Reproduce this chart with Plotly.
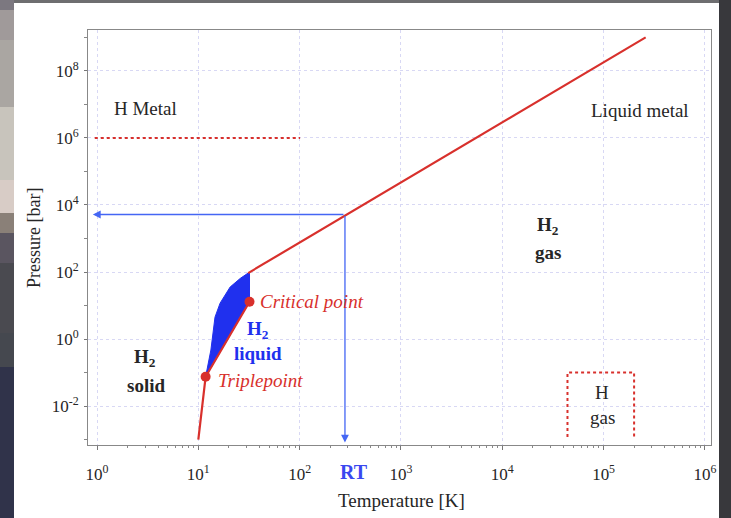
import numpy as np
import plotly.graph_objects as go

# ---------------- data ----------------
# lower sublimation segment and liquid-vapour segment (T [K], P [bar])
low_T = [10.0, 11.8, 32.0]
low_P = [1.0e-3, 0.075, 13.0]
# high-pressure boundary line
high_T = [31.0, 2.6e5]
high_P = [93.0, 1.0e9]
# blue liquid region outline: triple point -> melting curve -> top -> critical point
liq_T = [11.8, 13.3, 14.6, 16.4, 20.6, 26.0, 31.0, 32.0, 32.0, 11.8]
liq_P = [0.075, 0.47, 4.5, 11.8, 35.7, 65.0, 93.0, 93.0, 13.0, 0.075]
# special points
pts_T = [11.8, 32.0]
pts_P = [0.075, 13.0]
# metallisation line
metal_T = [0.95, 101.0]
metal_P = [1.0e6, 1.0e6]
# H gas box (open at bottom)
hgas_T = [4.4e4, 4.4e4, 2.0e5, 2.0e5]
hgas_P = [1.2e-3, 0.1, 0.1, 1.2e-3]
# room temperature reading
RT_T = 280.0
RT_P = 5200.0
RT_Tmin = 0.91
RT_Pmin = 8.2e-4

x_exp = [0, 1, 2, 3, 4, 5, 6]
y_exp = [-2, 0, 2, 4, 6, 8]

# ---------------- styling ----------------
W, H = 731, 518
L, R, T, B = 88, 20, 30, 73
pw, ph = W - L - R, H - T - B
RED = "#d8302c"
BLUE = "#2030ee"
ABLUE = "#4466f4"
DARK = "#262626"
SERIF = "Liberation Serif, Times New Roman, serif"
FS = 19


def px(x):
    return (x - L) / pw


def py(y):
    return (H - B - y) / ph


fig = go.Figure()

fig.add_trace(go.Scatter(x=liq_T, y=liq_P, mode="lines", fill="toself",
                         fillcolor=BLUE, line=dict(color=BLUE, width=1),
                         hoverinfo="skip"))
fig.add_trace(go.Scatter(x=low_T, y=low_P, mode="lines",
                         line=dict(color=RED, width=2.2)))
fig.add_trace(go.Scatter(x=high_T, y=high_P, mode="lines",
                         line=dict(color=RED, width=2.2)))
fig.add_trace(go.Scatter(x=metal_T, y=metal_P, mode="lines",
                         line=dict(color=RED, width=2, dash="dot")))
fig.add_trace(go.Scatter(x=hgas_T, y=hgas_P, mode="lines",
                         line=dict(color=RED, width=2, dash="dot")))
fig.add_trace(go.Scatter(x=pts_T, y=pts_P, mode="markers",
                         marker=dict(color=RED, size=10)))

ann = []
# blue arrows
ann.append(dict(x=np.log10(RT_T), y=np.log10(RT_Pmin), ax=np.log10(RT_T), ay=np.log10(RT_P),
                xref="x", yref="y", axref="x", ayref="y", showarrow=True,
                arrowhead=2, arrowsize=1.2, arrowwidth=1.3, arrowcolor=ABLUE, text=""))
ann.append(dict(x=np.log10(RT_Tmin), y=np.log10(RT_P), ax=np.log10(RT_T), ay=np.log10(RT_P),
                xref="x", yref="y", axref="x", ayref="y", showarrow=True,
                arrowhead=2, arrowsize=1.2, arrowwidth=1.3, arrowcolor=ABLUE, text=""))


def txt(x, y, s, color=DARK, size=FS, xanchor="center", bold=False, italic=False):
    if bold:
        s = "<b>" + s + "</b>"
    if italic:
        s = "<i>" + s + "</i>"
    ann.append(dict(x=x, y=y, xref="x", yref="y", text=s, showarrow=False,
                    xanchor=xanchor, yanchor="middle",
                    font=dict(family=SERIF, size=size, color=color)))


txt(0.474, 6.87, "H Metal")
txt(5.36, 6.81, "Liquid metal")
txt(4.45, 3.37, "H<sub>2</sub>", bold=True)
txt(4.45, 2.57, "gas", bold=True)
txt(4.985, -1.58, "H")
txt(4.985, -2.33, "gas")
txt(0.474, -0.57, "H<sub>2</sub>", bold=True)
txt(0.484, -1.37, "solid", bold=True)
txt(1.59, 0.27, "H<sub>2</sub>", bold=True, color=BLUE)
txt(1.59, -0.42, "liquid", bold=True, color=BLUE)
txt(1.585, 1.13, "Critical point", color=RED, xanchor="left", italic=True)
txt(1.17, -1.25, "Triplepoint", color=RED, xanchor="left", italic=True)

ann.append(dict(x=px(354), y=py(472), xref="paper", yref="paper", text="<b>RT</b>",
                xanchor="center", yanchor="middle",
                showarrow=False, font=dict(family=SERIF, size=20, color="#3a48f0")))
ann.append(dict(x=px(401), y=py(500), xref="paper", yref="paper", text="Temperature [K]",
                xanchor="center", yanchor="middle",
                showarrow=False, font=dict(family=SERIF, size=19, color=DARK)))
ann.append(dict(x=px(34), y=py(238), xref="paper", yref="paper", text="Pressure [bar]",
                xanchor="center", yanchor="middle",
                textangle=-90, showarrow=False, font=dict(family=SERIF, size=18, color=DARK)))

# frame around the figure (photo border)
shapes = []
bands = [(0, 10, "#7c7880"), (10, 40, "#a09a9a"), (40, 107, "#aaa6a2"),
         (107, 180, "#c8c4bc"), (180, 213, "#d8ccc6"), (213, 233, "#8a8078"),
         (233, 263, "#5a5560"), (263, 333, "#4a4a50"), (333, 367, "#45484f"),
         (367, 518, "#30334a")]
for y0, y1, c in bands:
    shapes.append(dict(type="rect", xref="paper", yref="paper", x0=px(0), x1=px(14),
                       y0=py(y1), y1=py(y0), fillcolor=c, line=dict(width=0), layer="below"))
shapes.append(dict(type="rect", xref="paper", yref="paper", x0=px(14), x1=px(731),
                   y0=py(3), y1=py(0), fillcolor="#6e6e70", line=dict(width=0), layer="below"))
shapes.append(dict(type="rect", xref="paper", yref="paper", x0=px(719), x1=px(731),
                   y0=py(518), y1=py(0), fillcolor="#38383c", line=dict(width=0), layer="below"))

x_minor = [m * 10 ** e for e in range(0, 6) for m in range(2, 10)]
y_minor = [10.0 ** e for e in [-3, -1, 1, 3, 5, 7, 9]]

fig.update_layout(
    width=W, height=H, margin=dict(l=L, r=R, t=T, b=B),
    paper_bgcolor="white", plot_bgcolor="white", showlegend=False,
    annotations=ann, shapes=shapes,
    font=dict(family=SERIF, size=17, color=DARK),
    xaxis=dict(type="log", range=[-0.089, 6.06],
               tickvals=[10.0 ** e for e in x_exp],
               ticktext=["10<sup>%d</sup>" % e for e in x_exp],
               ticks="outside", ticklen=4, tickcolor="#777", ticklabelstandoff=10,
               showline=True, linecolor="#888", linewidth=1, mirror=True,
               showgrid=True, gridcolor="#d8d8f4", griddash="dot", gridwidth=1,
               zeroline=False,
               minor=dict(tickvals=x_minor, ticks="outside", ticklen=2, tickcolor="#888", showgrid=False),
               tickfont=dict(family=SERIF, size=17, color=DARK)),
    yaxis=dict(type="log", range=[-3.16, 9.22],
               tickvals=[10.0 ** e for e in y_exp],
               ticktext=["10<sup>%d</sup>" % e for e in y_exp],
               ticks="outside", ticklen=3, tickcolor="#777", ticklabelstandoff=2,
               showline=True, linecolor="#888", linewidth=1, mirror=True,
               showgrid=True, gridcolor="#d8d8f4", griddash="dot", gridwidth=1,
               zeroline=False,
               minor=dict(tickvals=y_minor, ticks="outside", ticklen=3, tickcolor="#888", showgrid=False),
               tickfont=dict(family=SERIF, size=17, color=DARK)),
)

fig.write_html("out.html")
